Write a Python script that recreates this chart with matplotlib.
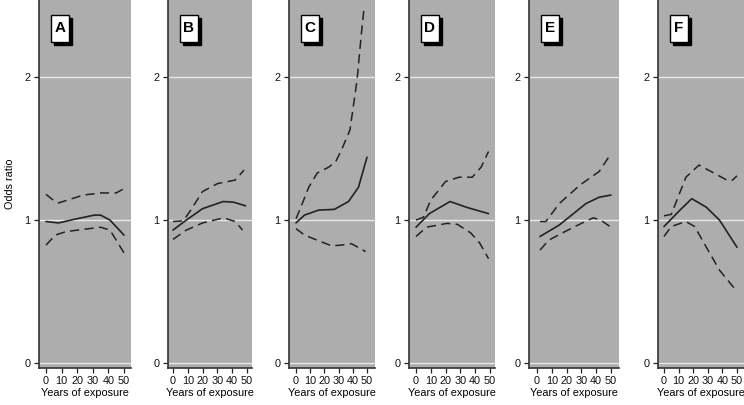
import matplotlib
matplotlib.use('Agg')
import matplotlib.pyplot as plt
from matplotlib.patches import Rectangle

# ── Data ─────────────────────────────────────────────────────────────────────
PANELS = ['A', 'B', 'C', 'D', 'E', 'F']

a_x = [0, 8, 18, 31, 35, 41, 50]
a_or = [0.99, 0.98, 1.005, 1.035, 1.035, 1.0, 0.895]
a_up_x = [0, 6, 8, 24, 35, 45, 50]
a_up = [1.18, 1.128, 1.12, 1.175, 1.19, 1.19, 1.22]
a_lo_x = [0, 6, 13, 24, 35, 41, 45, 50]
a_lo = [0.825, 0.895, 0.92, 0.935, 0.95, 0.93, 0.86, 0.77]

b_x = [0, 9, 20, 34, 41, 49]
b_or = [0.93, 1.0, 1.08, 1.13, 1.125, 1.10]
b_up_x = [0, 7, 12, 20, 30, 42, 48]
b_up = [0.99, 0.995, 1.07, 1.2, 1.255, 1.28, 1.35]
b_lo_x = [0, 9, 20, 32, 36, 42, 47]
b_lo = [0.865, 0.93, 0.98, 1.01, 1.01, 0.99, 0.93]

c_x = [0, 6, 16, 27, 37, 44, 50]
c_or = [0.98, 1.035, 1.07, 1.075, 1.13, 1.23, 1.44]
c_up_x = [0, 3, 9, 15, 23, 28, 32, 38, 43, 46, 48]
c_up = [1.01, 1.08, 1.23, 1.33, 1.37, 1.41, 1.49, 1.63, 1.98, 2.3, 2.49]
c_lo_x = [0, 6, 16, 25, 32, 39, 49]
c_lo = [0.94, 0.895, 0.855, 0.82, 0.825, 0.835, 0.78]

d_x = [0, 9, 23, 34, 49]
d_or = [0.95, 1.045, 1.13, 1.09, 1.045]
d_up_x = [0, 5, 10, 20, 29, 38, 44, 49]
d_up = [1.0, 1.02, 1.14, 1.27, 1.30, 1.30, 1.37, 1.48]
d_lo_x = [0, 7, 21, 28, 37, 43, 49]
d_lo = [0.885, 0.95, 0.977, 0.97, 0.91, 0.84, 0.73]

e_x = [2, 15, 33, 42, 50]
e_or = [0.885, 0.965, 1.115, 1.16, 1.175]
e_up_x = [2, 6, 15, 29, 42, 50]
e_up = [0.99, 0.99, 1.115, 1.245, 1.34, 1.465]
e_lo_x = [2, 8, 19, 30, 38, 43, 50]
e_lo = [0.79, 0.86, 0.92, 0.977, 1.016, 1.0, 0.95]

f_x = [0, 10, 19, 29, 38, 50]
f_or = [0.955, 1.06, 1.15, 1.09, 1.0, 0.81]
f_up_x = [0, 5, 15, 24, 34, 43, 47, 50]
f_up = [1.03, 1.04, 1.30, 1.385, 1.33, 1.28, 1.28, 1.31]
f_lo_x = [0, 5, 15, 21, 29, 38, 50]
f_lo = [0.885, 0.955, 0.99, 0.955, 0.81, 0.65, 0.50]

series = [
    (a_x, a_or, a_up_x, a_up, a_lo_x, a_lo),
    (b_x, b_or, b_up_x, b_up, b_lo_x, b_lo),
    (c_x, c_or, c_up_x, c_up, c_lo_x, c_lo),
    (d_x, d_or, d_up_x, d_up, d_lo_x, d_lo),
    (e_x, e_or, e_up_x, e_up, e_lo_x, e_lo),
    (f_x, f_or, f_up_x, f_up, f_lo_x, f_lo),
]

X_TICKS = [0, 10, 20, 30, 40, 50]
Y_TICKS = [0, 1, 2]

# ── Layout (pixels) ──────────────────────────────────────────────────────────
W, H = 744, 405
LEFTS = [39, 168, 289, 409, 529, 658]
WIDTHS = [92, 84, 86, 86, 90, 86]
ZERO_OFF = [7, 5, 7, 7, 8, 6]          # px from spine to x = 0
SPAN50 = [78, 74, 71, 74, 74, 73]      # px from x = 0 to x = 50
BOTTOM = 37
AX_H = H - BOTTOM

BG = '#adadad'
INK = '#222222'
DASH = (0, (6, 3.5))

plt.rcParams.update({
    'font.family': ['Liberation Sans', 'DejaVu Sans'],
    'font.size': 7.8,
})

fig = plt.figure(figsize=(W / 100, H / 100), dpi=100)

for i, (lab, (x, y, ux, uy, lx, ly)) in enumerate(zip(PANELS, series)):
    w = WIDTHS[i]
    ppy = SPAN50[i] / 50.0
    ax = fig.add_axes([LEFTS[i] / W, BOTTOM / H, w / W, AX_H / H])
    ax.set_facecolor(BG)
    ax.set_xlim(-ZERO_OFF[i] / ppy, (w - ZERO_OFF[i]) / ppy)
    ax.set_ylim(-0.035, 2.54)

    for g in Y_TICKS:
        ax.axhline(g, color='#e8e8e8', lw=1.0, zorder=1)

    ax.plot(x, y, color=INK, lw=1.2, zorder=3, solid_capstyle='round')
    ax.plot(ux, uy, color=INK, lw=1.1, ls=DASH, zorder=3)
    ax.plot(lx, ly, color=INK, lw=1.1, ls=DASH, zorder=3)

    ax.set_xticks(X_TICKS)
    ax.set_yticks(Y_TICKS)
    ax.tick_params(direction='out', length=3.5, width=0.9, color=INK,
                   labelcolor='#111111', pad=2.5)
    for s in ['top', 'right']:
        ax.spines[s].set_visible(False)
    for s in ['left', 'bottom']:
        ax.spines[s].set_color('#333333')
        ax.spines[s].set_linewidth(1.2)

    ax.set_xlabel('Years of exposure', labelpad=1.5)
    if i == 0:
        ax.set_ylabel('Odds ratio', labelpad=7)

    # panel letter box with drop shadow
    bx, by, bw, bh, off = 12, 15, 18, 27, 3
    ax.add_patch(Rectangle(((bx + off) / w, 1 - (by + bh + off) / AX_H),
                           bw / w, bh / AX_H, transform=ax.transAxes,
                           facecolor='black', edgecolor='black', lw=1,
                           zorder=5, clip_on=False))
    ax.add_patch(Rectangle((bx / w, 1 - (by + bh) / AX_H), bw / w, bh / AX_H,
                           transform=ax.transAxes, facecolor='white',
                           edgecolor='black', lw=1, zorder=6, clip_on=False))
    ax.text((bx + bw / 2) / w, 1 - (by + bh / 2) / AX_H, lab,
            transform=ax.transAxes, ha='center', va='center',
            fontsize=11, fontweight='bold', color='black', zorder=7)

fig.savefig('out.png', dpi=100)
